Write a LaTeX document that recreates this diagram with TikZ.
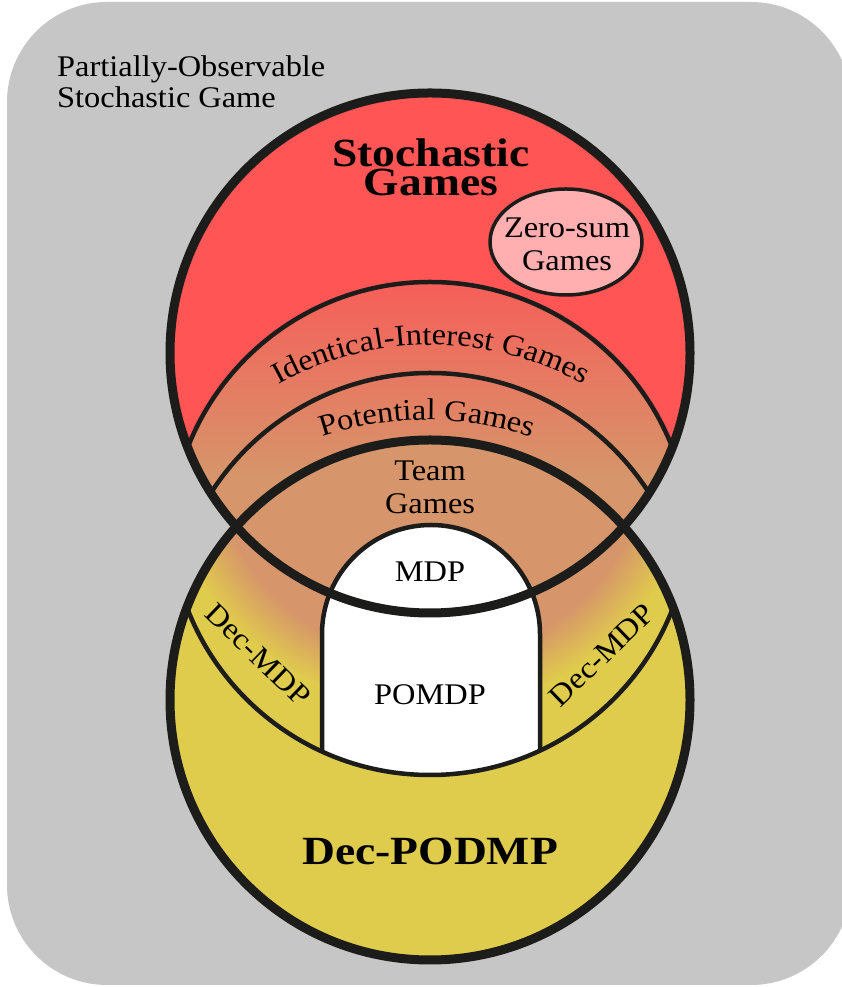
\documentclass[tikz,border=0pt]{standalone}
\usepackage{fontspec}
\setmainfont{Liberation Serif}[FakeStretch=1.08]
\newfontfamily\bigbold{Liberation Serif}[FakeStretch=1.14]
\usetikzlibrary{decorations.text}
\definecolor{bggray}{HTML}{C6C6C6}
\definecolor{sgred}{HTML}{FF5555}
\definecolor{yelc}{HTML}{E0CC4C}
\definecolor{tanc}{HTML}{D6956A}
\definecolor{redtop}{HTML}{F65E59}
\definecolor{pinkc}{HTML}{FFAFAF}
\definecolor{linec}{HTML}{1C1C1A}
% path box Y 0..1000 maps to 25bp..75bp of the shading
\pgfdeclareverticalshading{bandshade}{100bp}{color(0bp)=(tanc); color(50.6bp)=(tanc); color(60.3bp)=(redtop); color(100bp)=(redtop)}
% radial: circle of radius 400pt, 1bp = 16pt
\pgfdeclareradialshading{lowshade}{\pgfpoint{0bp}{0bp}}{color(0bp)=(tanc); color(13.7bp)=(tanc); color(16.9bp)=(yelc); color(50bp)=(yelc)}
\newcommand\txtfont{\fontsize{30}{36}\selectfont}
\newcommand\boldfnt{\bigbold\bfseries\fontsize{40}{40}\selectfont}
\begin{document}
\begin{tikzpicture}[x=1pt,y=1pt,
  thickline/.style={draw=linec,line width=9pt},
  thinline/.style={draw=linec,line width=4.5pt},
  lbl/.style={font=\txtfont,inner sep=0pt,text=black},
  blbl/.style={font=\boldfnt,inner sep=0pt,text=black}]
\useasboundingbox (0,0) rectangle (841,987);
\fill[bggray, rounded corners=100pt] (7,2) rectangle (851,985);
\coordinate (cS) at (430,634);
\coordinate (cI) at (430,445);
\coordinate (cP) at (430,354);
\coordinate (cB) at (430,287);
\coordinate (cD) at (430,472);
\coordinate (cG) at (430,547);
\fill[sgred] (cS) circle (260);
\fill[yelc] (cB) circle (260);
\begin{scope}
  \clip (cS) circle (260);
  \clip (cI) circle (260);
  \shade[shading=bandshade] (-80,0) rectangle (920,1000);
\end{scope}
\begin{scope}
  \clip (cB) circle (260);
  \clip (cD) circle (260);
  \shade[shading=lowshade] (cG) circle (400);
\end{scope}
\begin{scope}
  \clip (cD) circle (260);
  \fill[white] (322,100) -- (322,353) arc[start angle=180,end angle=0,radius=109] -- (540,100) -- cycle;
  \draw[thinline] (322,100) -- (322,353) arc[start angle=180,end angle=0,radius=109] -- (540,100);
\end{scope}
\begin{scope}
  \clip (cS) circle (260);
  \draw[thinline] (cI) circle (260);
  \draw[thinline] (cP) circle (260);
\end{scope}
\begin{scope}
  \clip (cB) circle (260);
  \draw[thinline] (cD) circle (260);
\end{scope}
\filldraw[fill=pinkc, draw=linec, line width=3.5pt] (566,745) ellipse [x radius=76, y radius=53];
\draw[thickline] (cS) circle (260);
\draw[thickline] (cB) circle (260);
\node[lbl, anchor=base west] (pos1) at (57,910) {Partially-Observable};
\node[lbl, anchor=base west] (pos2) at (57,879) {Stochastic Game};
\node[blbl, anchor=base] (sg1) at (431,820) {Stochastic};
\node[blbl, anchor=base] (sg2) at (431,791) {Games};
\node[lbl, anchor=base] (zs1) at (567,749) {Zero-sum};
\node[lbl, anchor=base] (zs2) at (567,716) {Games};
\node[lbl, anchor=base] (tg1) at (430,506) {Team};
\node[lbl, anchor=base] (tg2) at (430,473) {Games};
\node[lbl, anchor=base] (mdp) at (430,405) {MDP};
\node[lbl, anchor=base] (pomdp) at (430,282) {POMDP};
\node[blbl, anchor=base] (dec) at (430,122) {Dec-PODMP};
\node[lbl, rotate=-44] (dl) at (258,332) {Dec-MDP};
\node[lbl, rotate=44] (dr) at (602,332) {Dec-MDP};
\path[decorate, decoration={text along path, text align=center, text={|\txtfont|Identical-Interest Games}}] (431,327) ++(150:315) arc[start angle=150, end angle=30, radius=315];
\path[decorate, decoration={text along path, text align=center, text={|\txtfont|Potential Games}}] (427,234) ++(150:333) arc[start angle=150, end angle=30, radius=333];
\end{tikzpicture}
\end{document}
